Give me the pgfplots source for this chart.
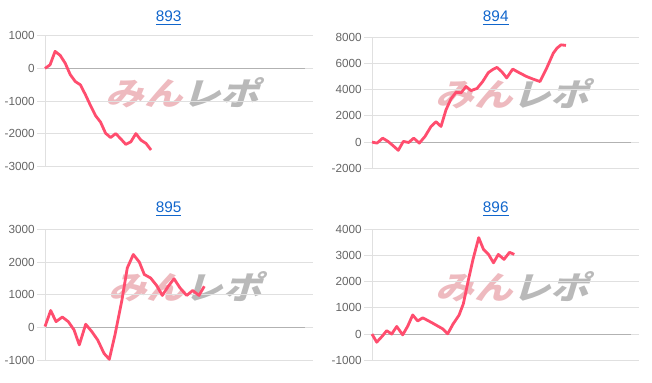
\documentclass[border=0pt]{standalone}
\usepackage{pgfplots}
\pgfplotsset{compat=1.18}
\usepackage{fontspec}
\setmainfont{Liberation Sans}
\newfontfamily\cjk[FakeSlant=0.25]{Noto Sans CJK JP}
\definecolor{linec}{RGB}{255,77,110}
\definecolor{gridc}{RGB}{224,224,224}
\definecolor{zeroc}{RGB}{178,178,178}
\definecolor{tickc}{RGB}{102,102,102}
\definecolor{titlec}{RGB}{17,102,204}
\definecolor{wmpink}{RGB}{238,186,191}
\definecolor{wmgray}{RGB}{185,185,185}
\pgfplotsset{panel/.style={
  scale only axis, height=98.25pt, xmin=0,
  axis line style={draw=none},
  xtick=\empty,
  ymajorgrids, grid style={gridc, line width=0.75pt},
  major tick length=6pt, tick align=outside,
  ytick style={gridc, line width=0.75pt},
  yticklabel style={font=\fontsize{8.8}{10}\selectfont, text=tickc, inner sep=1.5pt},
  /pgf/number format/assume math mode=true,
  /pgf/number format/1000 sep={},
  extra y ticks={0}, extra y tick labels={},
  extra y tick style={grid style={zeroc, line width=0.75pt}, tick style={zeroc, line width=0.75pt}},
  clip=false,
  execute at begin axis={\draw[gridc, line width=0.75pt] (rel axis cs:0,0) -- (rel axis cs:0,1);},
}}
\newcommand{\wm}{{\cjk\bfseries\fontsize{24}{24}\selectfont\textcolor{wmpink}{みん}\textcolor{wmgray}{レポ}}}
\begin{document}
\begin{tikzpicture}
\useasboundingbox (0,0) rectangle (489pt,-286.5pt);
% watermarks
\node[xscale=1.2, transform shape, inner sep=0] at (136.9pt,-69.5pt) {\wm};
\node[xscale=1.2, transform shape, inner sep=0] at (384.4pt,-70.5pt) {\wm};
\node[xscale=1.2, transform shape, inner sep=0] at (138.7pt,-215.2pt) {\wm};
\node[xscale=1.2, transform shape, inner sep=0] at (384.4pt,-215.2pt) {\wm};
% titles
\node[font=\fontsize{11.5}{13}\selectfont, text=titlec] at (126.5pt,-13.5pt) {\underline{893}};
\node[font=\fontsize{11.5}{13}\selectfont, text=titlec] at (371.8pt,-13.5pt) {\underline{894}};
\node[font=\fontsize{11.5}{13}\selectfont, text=titlec] at (126.5pt,-156.75pt) {\underline{895}};
\node[font=\fontsize{11.5}{13}\selectfont, text=titlec] at (371.8pt,-156.75pt) {\underline{896}};

% Panel 893
\begin{axis}[panel, at={(33.75pt,-125.0pt)}, anchor=south west, width=195pt, xmax=260,
  ymin=-3000, ymax=1000, ytick={-3000,-2000,-1000,0,1000}]
\addplot[linec, line width=2.1pt, line join=round, no markers] coordinates {
(0,0) (5.05,110) (10.1,520) (15.15,400) (20.2,160) (25.25,-190) (30.3,-400)
(35.35,-500) (40.4,-800) (45.45,-1130) (50.5,-1440) (55.55,-1640) (60.6,-1980)
(65.65,-2110) (70.7,-1990) (75.75,-2150) (80.8,-2320) (85.85,-2240) (90.9,-1990)
(95.95,-2190) (101,-2290) (106.05,-2490)};
\end{axis}

% Panel 894
\begin{axis}[panel, at={(279pt,-126.2pt)}, anchor=south west, width=194.25pt, xmax=259,
  ymin=-2000, ymax=8000, ytick={-2000,0,2000,4000,6000,8000}]
\addplot[linec, line width=2.1pt, line join=round, no markers] coordinates {
(0,0) (5,-80) (10.7,300) (16,50) (20.7,-250) (26.3,-630) (31.3,50) (36.7,-30)
(41.7,300) (47.3,-80) (53,430) (59,1190) (64,1550) (69,1190) (74,2460) (79,3300)
(84,3800) (89,3760) (94,4240) (99,3930) (105,4090) (110.7,4620) (116.3,5300)
(121,5550) (125,5700) (130,5350) (134.7,4900) (140.7,5570) (148,5260)
(154.7,5000) (161.3,4800) (168,4620) (174.7,5650) (181.3,6790) (185,7170)
(189,7420) (194,7380)};
\end{axis}

% Panel 895
\begin{axis}[panel, at={(33.75pt,-270.2pt)}, anchor=south west, width=195pt, xmax=260,
  ymin=-1000, ymax=3000, ytick={-1000,0,1000,2000,3000}]
\addplot[linec, line width=2.1pt, line join=round, no markers] coordinates {
(0,30) (5.7,520) (11,180) (17.3,320) (23.3,180) (29,-70) (34.3,-530) (40.7,100)
(46.7,-120) (52.7,-380) (59,-790) (64.3,-970) (70,-220) (76.7,800) (82.3,1820)
(88.3,2230) (94.3,2000) (99.3,1620) (105.7,1510) (111.7,1280) (117.3,980)
(123.3,1260) (129,1490) (135,1210) (141.7,980) (147.7,1130) (154,980) (159.3,1260)};
\end{axis}

% Panel 896
\begin{axis}[panel, at={(279pt,-270.2pt)}, anchor=south west, width=194.25pt, xmax=259,
  ymin=-1000, ymax=4000, ytick={-1000,0,1000,2000,3000,4000}]
\addplot[linec, line width=2.1pt, line join=round, no markers] coordinates {
(0,0) (4.7,-310) (10,-90) (14.7,130) (19.7,0) (24.7,290) (30.7,-30) (35.7,300)
(40.7,730) (45.7,500) (50.7,620) (55.7,520) (61,410) (66,300) (70.7,200)
(75.7,10) (81,380) (87,720) (91.3,1150) (96.3,2050) (101,2850) (106.7,3680)
(111.5,3230) (116.7,3030) (121.5,2720) (126.3,3040) (132,2850) (137.5,3120)
(142.3,3040)};
\end{axis}
\end{tikzpicture}
\end{document}
